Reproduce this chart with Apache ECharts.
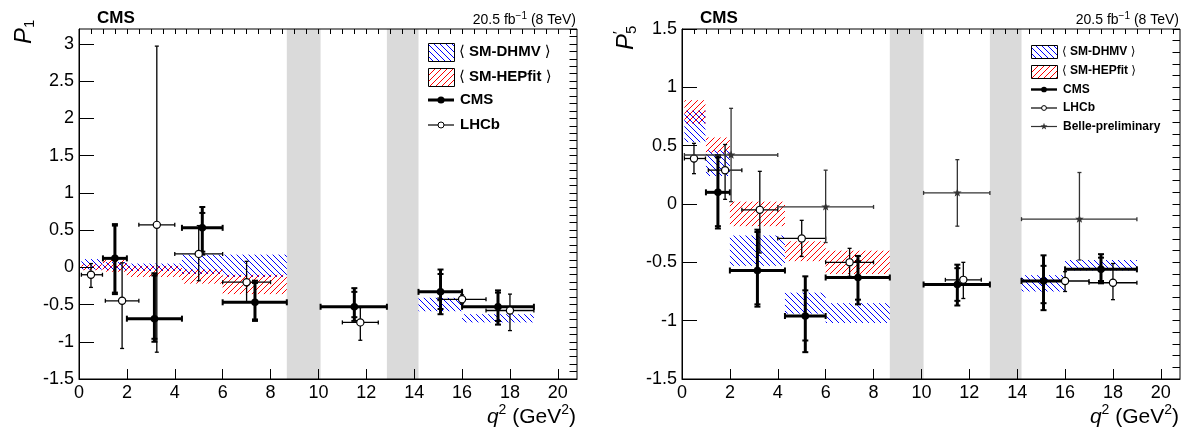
<!DOCTYPE html>
<html>
<head>
<meta charset="utf-8">
<title>P1 and P5' versus q2</title>
<script src="https://cdn.jsdelivr.net/npm/echarts@6.0.0/dist/echarts.min.js"></script>
<style>
  html, body { margin: 0; background: #fff; }
  #chart { width: 1190px; height: 430px; }
</style>
</head>
<body>
<div id="chart"></div>
<script>
// ---- data ----
const xTicks = [0, 2, 4, 6, 8, 10, 12, 14, 16, 18, 20];
const p1YTicks = [-1.5, -1, -0.5, 0, 0.5, 1, 1.5, 2, 2.5, 3];
const p5YTicks = [-1.5, -1, -0.5, 0, 0.5, 1, 1.5];

// excluded J/psi and psi(2S) regions
const vetoLo = [8.68, 12.86];
const vetoHi = [10.09, 14.18];

// CMS
const cmsBinLo = [1, 2, 4.3, 6, 10.09, 14.18, 16];
const cmsBinHi = [2, 4.3, 6, 8.68, 12.86, 16, 19];
const cmsX = [1.5, 3.15, 5.15, 7.35, 11.5, 15.1, 17.5];
const p1Cms = [0.12, -0.69, 0.53, -0.47, -0.53, -0.33, -0.53];
const p1CmsStatLo = [-0.34, -0.96, 0.21, -0.70, -0.67, -0.56, -0.72];
const p1CmsStatHi = [0.56, -0.11, 0.73, -0.21, -0.33, -0.09, -0.34];
const p1CmsTotLo = [-0.36, -1.0, 0.17, -0.72, -0.72, -0.63, -0.77];
const p1CmsTotHi = [0.58, -0.08, 0.81, -0.18, -0.28, -0.03, -0.31];
const p5Cms = [0.10, -0.57, -0.96, -0.63, -0.69, -0.66, -0.56];
const p5CmsStatLo = [-0.19, -0.86, -1.17, -0.82, -0.83, -0.85, -0.66];
const p5CmsStatHi = [0.40, -0.24, -0.74, -0.49, -0.55, -0.53, -0.46];
const p5CmsTotLo = [-0.21, -0.88, -1.27, -0.86, -0.87, -0.91, -0.68];
const p5CmsTotHi = [0.42, -0.22, -0.62, -0.445, -0.52, -0.44, -0.43];

// LHCb
const lhcbBinLo = [0.1, 1.1, 2.5, 4, 6, 11, 15, 17];
const lhcbBinHi = [0.98, 2.5, 4, 6, 8, 12.5, 17, 19];
const lhcbX = [0.5, 1.8, 3.25, 5.0, 7.0, 11.75, 16.0, 18.0];
const p1Lhcb = [-0.10, -0.45, 0.57, 0.18, -0.20, -0.74, -0.43, -0.58];
const p1LhcbLo = [-0.27, -1.09, -1.14, -0.18, -0.47, -0.98, -0.49, -0.85];
const p1LhcbHi = [0.05, 0.06, 2.97, 0.56, 0.08, -0.54, -0.37, -0.36];
const p5Lhcb = [0.39, 0.29, -0.05, -0.295, -0.50, -0.65, -0.66, -0.675];
const p5LhcbLo = [0.26, 0.04, -0.42, -0.45, -0.62, -0.81, -0.75, -0.82];
const p5LhcbHi = [0.52, 0.51, 0.28, -0.14, -0.38, -0.50, -0.58, -0.51];

// Belle preliminary (P5' only)
const belleBinLo = [0.1, 4, 10.09, 14.18];
const belleBinHi = [4, 8, 12.86, 19];
const belleX = [2.05, 6.0, 11.5, 16.6];
const p5Belle = [0.42, -0.025, 0.095, -0.13];
const p5BelleLo = [0.02, -0.33, -0.19, -0.48];
const p5BelleHi = [0.82, 0.29, 0.38, 0.27];

// SM predictions
const thBinLo = [0.1, 1, 2, 4.3, 6, 14.18, 16];
const thBinHi = [0.98, 2, 4.3, 6, 8.68, 16, 19];
const p1DhmvLo = [-0.03, -0.04, -0.05, -0.09, -0.13, -0.59, -0.74];
const p1DhmvHi = [0.11, 0.07, 0.05, 0.17, 0.17, -0.41, -0.63];
const p1HepfitLo = [-0.04, -0.06, -0.13, -0.22, -0.36, null, null];
const p1HepfitHi = [0.04, 0.10, 0.02, -0.03, -0.10, null, null];
const p5DhmvLo = [0.53, 0.24, -0.53, -0.94, -1.02, -0.75, -0.57];
const p5DhmvHi = [0.80, 0.46, -0.27, -0.76, -0.85, -0.61, -0.48];
const p5HepfitLo = [0.69, 0.44, -0.19, -0.49, -0.60, null, null];
const p5HepfitHi = [0.89, 0.57, 0.02, -0.32, -0.40, null, null];

// ---- helpers ----
const FONT = '"Liberation Sans", "DejaVu Sans", sans-serif';
const BLUE = 'rgb(0,0,255)';
const RED = 'rgb(255,0,0)';
const VETO = '#dadada';
const meas = document.createElement('canvas').getContext('2d');
function fontOf(p) {
  return (p.it ? 'italic ' : '') + (p.b ? 'bold ' : '') + p.s + 'px ' + FONT;
}
function tw(p) { meas.font = fontOf(p); return meas.measureText(p.t).width; }

// a row of text pieces (for super/subscripts), left or right aligned at x
function textRow(parts, x, y, align) {
  let w = 0;
  parts.forEach(p => { if (!p.stay) w += tw(p); });
  let cx = align === 'right' ? x - w : x;
  return parts.map(p => {
    const el = {
      type: 'text', x: cx, y: y + (p.dy || 0),
      style: { text: p.t, font: fontOf(p), fill: p.c || '#000',
        align: 'left', verticalAlign: 'middle', textAlign: 'left', textVerticalAlign: 'middle' }
    };
    if (!p.stay) cx += tw(p);
    return el;
  });
}

// diagonal hatch lines clipped to a pixel rectangle (x0<x1, y0<y1)
function hatchLines(x0, y0, x1, y1, slash, color) {
  const sp = 6, out = [];
  const st = { stroke: color, lineWidth: 1 };
  if (slash) { // x + y = c
    for (let k = Math.ceil((x0 + y0) / sp); k * sp <= x1 + y1; k++) {
      const c = k * sp;
      const xs = Math.max(x0, c - y1), xe = Math.min(x1, c - y0);
      if (xe > xs) out.push({ type: 'line', shape: { x1: xs, y1: c - xs, x2: xe, y2: c - xe }, style: st });
    }
  } else { // x - y = c
    for (let k = Math.ceil((x0 - y1) / sp); k * sp <= x1 - y0; k++) {
      const c = k * sp;
      const xs = Math.max(x0, y0 + c), xe = Math.min(x1, y1 + c);
      if (xe > xs) out.push({ type: 'line', shape: { x1: xs, y1: xs - c, x2: xe, y2: xe - c }, style: st });
    }
  }
  return out;
}

function steps(from, to, step) {
  const out = [];
  for (let i = 0; from + i * step <= to + 1e-9; i++) out.push(Math.round((from + i * step) * 100) / 100);
  return out;
}

function starPoints(cx, cy, r) {
  const pts = [];
  for (let i = 0; i < 10; i++) {
    const rr = i % 2 ? r * 0.42 : r;
    const a = -Math.PI / 2 + i * Math.PI / 5;
    pts.push([cx + rr * Math.cos(a), cy + rr * Math.sin(a)]);
  }
  return pts;
}

// ---- render functions ----
function bandRender(color, slash) {
  return function (params, api) {
    const a = api.coord([api.value(0), api.value(3)]);
    const b = api.coord([api.value(1), api.value(2)]);
    return { type: 'group', children: hatchLines(a[0], a[1], b[0], b[1], slash, color) };
  };
}

function vetoRender(yMin, yMax) {
  return function (params, api) {
    const a = api.coord([api.value(0), yMax]);
    const b = api.coord([api.value(1), yMin]);
    return { type: 'rect', shape: { x: a[0], y: a[1], width: b[0] - a[0], height: b[1] - a[1] }, style: { fill: VETO } };
  };
}

// data item: [x, y, xlo, xhi, ylo, yhi, (statLo, statHi)]
function errRender(o) {
  return function (params, api) {
    const v = i => api.value(i);
    const c = api.coord([v(0), v(1)]);
    const xl = api.coord([v(2), v(1)])[0], xh = api.coord([v(3), v(1)])[0];
    const yl = api.coord([v(0), v(4)])[1], yh = api.coord([v(0), v(5)])[1];
    const st = { stroke: o.color, lineWidth: o.lw, lineCap: 'butt' };
    const ch = [];
    const ln = (x1, y1, x2, y2, w) => ch.push({ type: 'line', shape: { x1, y1, x2, y2 },
      style: w ? Object.assign({}, st, { lineWidth: w }) : st });
    ln(xl, c[1], xh, c[1]);
    ln(c[0], yl, c[0], yh);
    ln(xl, c[1] - o.cap, xl, c[1] + o.cap, o.capW);
    ln(xh, c[1] - o.cap, xh, c[1] + o.cap, o.capW);
    ln(c[0] - o.cap, yl, c[0] + o.cap, yl, o.capW);
    ln(c[0] - o.cap, yh, c[0] + o.cap, yh, o.capW);
    if (o.stat) {
      const sl = api.coord([v(0), v(6)])[1], sh = api.coord([v(0), v(7)])[1];
      ln(c[0] - o.cap, sl, c[0] + o.cap, sl, o.capW);
      ln(c[0] - o.cap, sh, c[0] + o.cap, sh, o.capW);
    }
    if (o.marker === 'dot') {
      ch.push({ type: 'circle', shape: { cx: c[0], cy: c[1], r: o.r }, style: { fill: '#000' } });
    } else if (o.marker === 'open') {
      ch.push({ type: 'circle', shape: { cx: c[0], cy: c[1], r: o.r }, style: { fill: '#fff', stroke: '#000', lineWidth: 1.2 } });
    } else {
      ch.push({ type: 'polygon', shape: { points: starPoints(c[0], c[1], o.r) }, style: { fill: o.color } });
    }
    return { type: 'group', children: ch };
  };
}

const cmsStyle = { color: '#000', lw: 3, cap: 3, capW: 2, marker: 'dot', r: 3.8, stat: true };
const lhcbStyle = { color: '#000', lw: 1.3, cap: 2, capW: 1.3, marker: 'open', r: 3.6 };
const belleStyle = { color: '#333', lw: 1.3, cap: 2, capW: 1.3, marker: 'star', r: 4.5 };

// ---- panels ----
const panels = [
  { left: 79, yMin: -1.5, yMax: 3.2, yTicks: p1YTicks,
    dhmv: [p1DhmvLo, p1DhmvHi], hepfit: [p1HepfitLo, p1HepfitHi],
    cms: [p1Cms, p1CmsTotLo, p1CmsTotHi, p1CmsStatLo, p1CmsStatHi],
    lhcb: [p1Lhcb, p1LhcbLo, p1LhcbHi], belle: null },
  { left: 682, yMin: -1.5, yMax: 1.5, yTicks: p5YTicks,
    dhmv: [p5DhmvLo, p5DhmvHi], hepfit: [p5HepfitLo, p5HepfitHi],
    cms: [p5Cms, p5CmsTotLo, p5CmsTotHi, p5CmsStatLo, p5CmsStatHi],
    lhcb: [p5Lhcb, p5LhcbLo, p5LhcbHi], belle: [p5Belle, p5BelleLo, p5BelleHi] }
];

const grids = [], xAxes = [], yAxes = [], series = [];
const xMinor = steps(0, 20.8, 0.5);

panels.forEach((p, gi) => {
  grids.push({ left: p.left, top: 29, width: 498, height: 350, containLabel: false,
    outerBoundsMode: 'none', show: true, borderColor: '#000', borderWidth: 1, z: 10 });
  const yMinor = steps(p.yMin, p.yMax, 0.1);
  const lab = { color: '#000', fontSize: 18, fontFamily: FONT };
  xAxes.push({ type: 'value', gridIndex: gi, min: 0, max: 20.8, z: 10,
    axisLine: { onZero: false, lineStyle: { color: '#000', width: 1 } },
    axisTick: { inside: true, length: 10, customValues: xTicks, lineStyle: { color: '#000' } },
    axisLabel: Object.assign({ customValues: xTicks, margin: 5 }, lab),
    splitLine: { show: false } });
  xAxes.push({ type: 'value', gridIndex: gi, min: 0, max: 20.8, z: 10,
    axisLine: { show: false, onZero: false },
    axisTick: { inside: true, length: 5, customValues: xMinor, lineStyle: { color: '#000' } },
    axisLabel: { show: false }, splitLine: { show: false } });
  yAxes.push({ type: 'value', gridIndex: gi, min: p.yMin, max: p.yMax, z: 10,
    axisLine: { onZero: false, lineStyle: { color: '#000', width: 1 } },
    axisTick: { inside: true, length: 15, customValues: p.yTicks, lineStyle: { color: '#000' } },
    axisLabel: Object.assign({ customValues: p.yTicks, margin: 5 }, lab),
    splitLine: { show: false } });
  yAxes.push({ type: 'value', gridIndex: gi, min: p.yMin, max: p.yMax, z: 10,
    axisLine: { show: false, onZero: false },
    axisTick: { inside: true, length: 7.5, customValues: yMinor, lineStyle: { color: '#000' } },
    axisLabel: { show: false }, splitLine: { show: false } });

  const xi = gi * 2, yi = gi * 2;
  const base = { type: 'custom', xAxisIndex: xi, yAxisIndex: yi, silent: true };

  series.push(Object.assign({}, base, { name: 'veto',
    renderItem: vetoRender(p.yMin, p.yMax),
    data: vetoLo.map((lo, i) => [lo, vetoHi[i]]) }));

  const bands = (lo, hi) => thBinLo.map((b, i) => [b, thBinHi[i], lo[i], hi[i]]).filter(d => d[2] !== null);
  series.push(Object.assign({}, base, { name: 'SM-DHMV', renderItem: bandRender(BLUE, false),
    data: bands(p.dhmv[0], p.dhmv[1]) }));
  series.push(Object.assign({}, base, { name: 'SM-HEPfit', renderItem: bandRender(RED, true),
    data: bands(p.hepfit[0], p.hepfit[1]) }));

  series.push(Object.assign({}, base, { name: 'CMS', renderItem: errRender(cmsStyle),
    data: cmsX.map((x, i) => [x, p.cms[0][i], cmsBinLo[i], cmsBinHi[i], p.cms[1][i], p.cms[2][i], p.cms[3][i], p.cms[4][i]]) }));
  series.push(Object.assign({}, base, { name: 'LHCb', renderItem: errRender(lhcbStyle),
    data: lhcbX.map((x, i) => [x, p.lhcb[0][i], lhcbBinLo[i], lhcbBinHi[i], p.lhcb[1][i], p.lhcb[2][i]]) }));
  if (p.belle) {
    series.push(Object.assign({}, base, { name: 'Belle-preliminary', renderItem: errRender(belleStyle),
      data: belleX.map((x, i) => [x, p.belle[0][i], belleBinLo[i], belleBinHi[i], p.belle[1][i], p.belle[2][i]]) }));
  }
});

// ---- texts and legends ----
function panelTexts(left, right) {
  let els = [];
  els = els.concat(textRow([{ t: 'CMS', s: 17, b: true }], left + 18, 18.5, 'left'));
  els = els.concat(textRow([{ t: '20.5 fb', s: 14 }, { t: '\u22121', s: 10, dy: -4 }, { t: ' (8 TeV)', s: 14 }], right - 1, 20, 'right'));
  els = els.concat(textRow([{ t: 'q', s: 21, it: true }, { t: '2', s: 14, dy: -7 }, { t: ' (GeV', s: 21 }, { t: '2', s: 14, dy: -7 }, { t: ')', s: 21 }], right - 1, 417, 'right'));
  return els;
}

function legend(x0, ys, fs, boxH, rows) {
  const els = [];
  rows.forEach((r, i) => {
    const y = ys[i];
    if (r.color) {
      const top = Math.round(y - boxH / 2);
      hatchLines(x0, top, x0 + 26, top + boxH, r.slash, r.color).forEach(e => els.push(e));
      els.push({ type: 'rect', shape: { x: x0 + 0.5, y: top + 0.5, width: 26, height: boxH },
        style: { fill: 'none', stroke: '#000', lineWidth: 1 } });
      textRow([{ t: '\u27e8 ', s: fs }, { t: r.label, s: fs, b: true }, { t: ' \u27e9', s: fs }], x0 + 31, y, 'left').forEach(e => els.push(e));
    } else {
      els.push({ type: 'line', shape: { x1: x0, y1: y, x2: x0 + 26, y2: y }, style: { stroke: r.st.color, lineWidth: r.st.lw > 2 ? fs / 5 : 1.2 } });
      const cx = x0 + 13;
      if (r.st.marker === 'dot') els.push({ type: 'circle', shape: { cx, cy: y, r: fs / 4.2 }, style: { fill: '#000' } });
      else if (r.st.marker === 'open') els.push({ type: 'circle', shape: { cx, cy: y, r: fs / 5 }, style: { fill: '#fff', stroke: '#000', lineWidth: 1 } });
      else els.push({ type: 'polygon', shape: { points: starPoints(cx, y, fs / 3.3) }, style: { fill: r.st.color } });
      textRow([{ t: r.label, s: fs, b: true }], x0 + 32, y, 'left').forEach(e => els.push(e));
    }
  });
  return els;
}

const legRowsLeft = [
  { color: BLUE, slash: false, label: 'SM-DHMV' }, { color: RED, slash: true, label: 'SM-HEPfit' },
  { st: cmsStyle, label: 'CMS' }, { st: lhcbStyle, label: 'LHCb' }
];
const legRowsRight = legRowsLeft.concat([{ st: belleStyle, label: 'Belle-preliminary' }]);

let graphics = [];
graphics = graphics.concat(panelTexts(79, 577), panelTexts(682, 1180));
graphics = graphics.concat(legend(428, [52, 77, 100, 125], 15, 18, legRowsLeft));
graphics = graphics.concat(legend(1031, [51.5, 71, 89.5, 108, 126.5], 12, 13, legRowsRight));
graphics.push({ type: 'group', x: 24, y: 44, rotation: Math.PI / 2,
  children: textRow([{ t: 'P', s: 24, it: true }, { t: '1', s: 15, dy: 6 }], 0, 0, 'left') });
graphics.push({ type: 'group', x: 626, y: 50, rotation: Math.PI / 2,
  children: textRow([{ t: 'P', s: 24, it: true }, { t: '\u2032', s: 15, dy: -7, stay: true }, { t: '5', s: 15, dy: 6 }], 0, 0, 'left') });

const chart = echarts.init(document.getElementById('chart'));
chart.setOption({
  animation: false,
  backgroundColor: '#fff',
  grid: grids,
  xAxis: xAxes,
  yAxis: yAxes,
  series: series,
  graphic: { elements: graphics }
});
</script>
</body>
</html>
